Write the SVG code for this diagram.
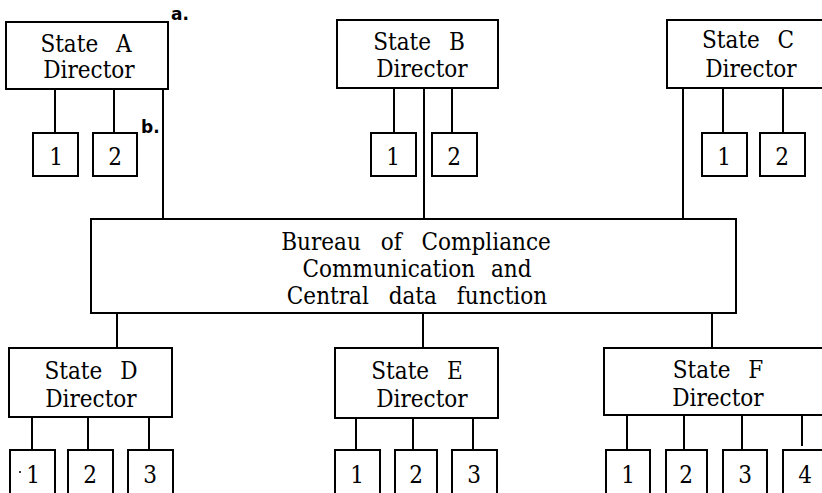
<svg xmlns="http://www.w3.org/2000/svg" width="822" height="493" viewBox="0 0 822 493">
  <style>
    .box { fill: #fff; stroke: #000; stroke-width: 2; }
    .wire { fill: none; stroke: #000; stroke-width: 2; }
    text { font-family: "DejaVu Serif Condensed", "DejaVu Serif", serif; fill: #000; }
    .lbl { font-size: 24px; text-anchor: middle; }
    .ttl { word-spacing: 11px; }
    .num { font-size: 24px; text-anchor: middle; }
    .note { font-family: "DejaVu Sans", sans-serif; font-size: 17px; font-weight: bold; }
  </style>
  <rect width="822" height="493" fill="#fff"/>

  <!-- connectors -->
  <g id="connectors" class="wire">
    <!-- directors up to the bureau -->
    <line x1="163" y1="89" x2="163" y2="219"/>
    <line x1="424" y1="88" x2="424" y2="219"/>
    <line x1="683" y1="88" x2="683" y2="219"/>
    <!-- bureau down to directors -->
    <line x1="117" y1="313" x2="117" y2="348"/>
    <line x1="423" y1="313" x2="423" y2="348"/>
    <line x1="712" y1="313" x2="712" y2="348"/>
    <!-- directors to numbered units -->
    <line x1="55" y1="89" x2="55" y2="133"/>
    <line x1="114" y1="89" x2="114" y2="133"/>
    <line x1="394" y1="88" x2="394" y2="133"/>
    <line x1="452" y1="88" x2="452" y2="133"/>
    <line x1="723" y1="88" x2="723" y2="133"/>
    <line x1="783" y1="88" x2="783" y2="133"/>
    <line x1="32" y1="417" x2="32" y2="450"/>
    <line x1="88" y1="417" x2="88" y2="450"/>
    <line x1="149" y1="417" x2="149" y2="450"/>
    <line x1="356" y1="418" x2="356" y2="450"/>
    <line x1="413" y1="418" x2="413" y2="450"/>
    <line x1="473" y1="418" x2="473" y2="450"/>
    <line x1="627" y1="415" x2="627" y2="450"/>
    <line x1="684" y1="415" x2="684" y2="450"/>
    <line x1="742" y1="415" x2="742" y2="450"/>
    <line x1="802" y1="415" x2="802" y2="446"/>
  </g>

  <!-- central bureau -->
  <g id="bureau">
    <rect class="box" x="91" y="219" width="645" height="94"/>
    <text class="lbl" x="416" y="250" word-spacing="13">Bureau of Compliance</text>
    <text class="lbl" x="417" y="277" word-spacing="9">Communication and</text>
    <text class="lbl" x="417" y="304" word-spacing="13">Central data function</text>
  </g>

  <!-- state A -->
  <g id="stateA">
    <rect class="box" x="6" y="22" width="162" height="67"/>
    <text class="lbl ttl" x="86" y="52">State A</text>
    <text class="lbl" x="89" y="78">Director</text>
  </g>
  <g id="stateA-1"><rect class="box" x="33" y="133" width="45" height="43"/><text class="num" x="56" y="165">1</text></g>
  <g id="stateA-2"><rect class="box" x="93" y="133" width="44" height="43"/><text class="num" x="115" y="165">2</text></g>
  <g id="note-a"><text class="note" x="171" y="20">a.</text></g>
  <g id="note-b"><text class="note" x="141" y="133">b.</text></g>

  <!-- state B -->
  <g id="stateB">
    <rect class="box" x="337" y="20" width="161" height="68"/>
    <text class="lbl ttl" x="419" y="50">State B</text>
    <text class="lbl" x="422" y="77">Director</text>
  </g>
  <g id="stateB-1"><rect class="box" x="371" y="133" width="45" height="43"/><text class="num" x="393" y="165">1</text></g>
  <g id="stateB-2"><rect class="box" x="432" y="133" width="45" height="43"/><text class="num" x="454" y="165">2</text></g>

  <!-- state C -->
  <g id="stateC">
    <rect class="box" x="667" y="20" width="165" height="68"/>
    <text class="lbl ttl" x="748" y="48">State C</text>
    <text class="lbl" x="751" y="77">Director</text>
  </g>
  <g id="stateC-1"><rect class="box" x="702" y="133" width="45" height="43"/><text class="num" x="724" y="165">1</text></g>
  <g id="stateC-2"><rect class="box" x="760" y="133" width="45" height="43"/><text class="num" x="782" y="165">2</text></g>

  <!-- state D -->
  <g id="stateD">
    <rect class="box" x="9" y="348" width="163" height="69"/>
    <text class="lbl ttl" x="91" y="379">State D</text>
    <text class="lbl" x="91" y="407">Director</text>
  </g>
  <g id="stateD-1"><rect class="box" x="10" y="450" width="45" height="60"/><circle cx="20" cy="472" r="1"/><text class="num" x="33" y="483">1</text></g>
  <g id="stateD-2"><rect class="box" x="68" y="450" width="45" height="60"/><text class="num" x="90" y="483">2</text></g>
  <g id="stateD-3"><rect class="box" x="128" y="450" width="45" height="60"/><text class="num" x="150" y="483">3</text></g>

  <!-- state E -->
  <g id="stateE">
    <rect class="box" x="335" y="348" width="163" height="70"/>
    <text class="lbl ttl" x="417" y="379">State E</text>
    <text class="lbl" x="422" y="407">Director</text>
  </g>
  <g id="stateE-1"><rect class="box" x="335" y="450" width="45" height="60"/><text class="num" x="357" y="483">1</text></g>
  <g id="stateE-2"><rect class="box" x="395" y="450" width="42" height="60"/><text class="num" x="416" y="483">2</text></g>
  <g id="stateE-3"><rect class="box" x="452" y="450" width="45" height="60"/><text class="num" x="474" y="483">3</text></g>

  <!-- state F -->
  <g id="stateF">
    <rect class="box" x="604" y="348" width="230" height="67"/>
    <text class="lbl ttl" x="718" y="378">State F</text>
    <text class="lbl" x="718" y="406">Director</text>
  </g>
  <g id="stateF-1"><rect class="box" x="606" y="450" width="44" height="60"/><text class="num" x="628" y="483">1</text></g>
  <g id="stateF-2"><rect class="box" x="666" y="450" width="41" height="60"/><text class="num" x="686" y="483">2</text></g>
  <g id="stateF-3"><rect class="box" x="723" y="450" width="44" height="60"/><text class="num" x="745" y="483">3</text></g>
  <g id="stateF-4"><rect class="box" x="783" y="450" width="50" height="60"/><text class="num" x="805" y="483">4</text></g>
</svg>
